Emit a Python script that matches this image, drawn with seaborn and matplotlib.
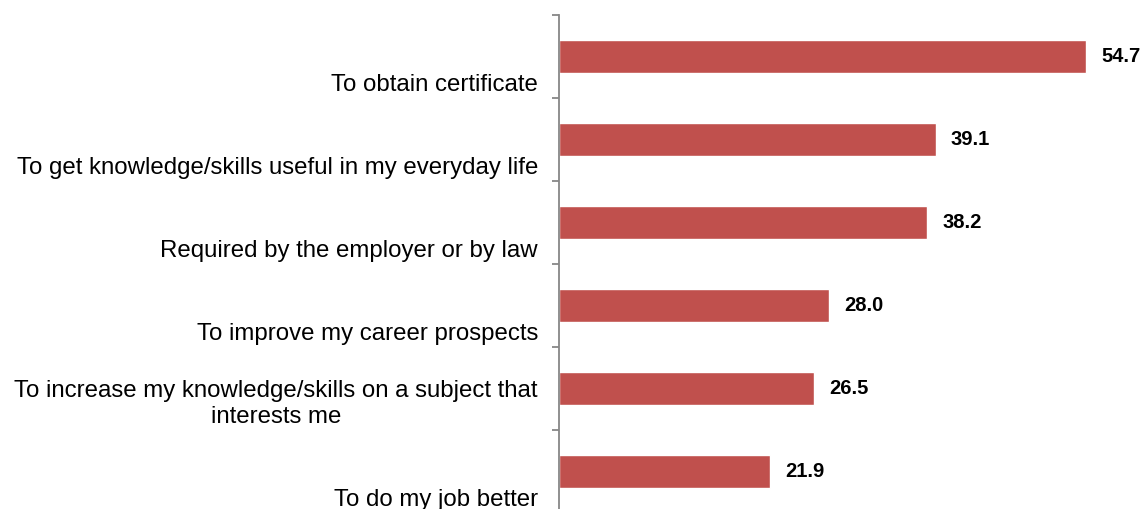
import matplotlib
matplotlib.use("Agg")
import matplotlib.pyplot as plt
import matplotlib.transforms as mtransforms
import seaborn as sns
import pandas as pd

# Reasons for participating in learning activities (%)
reasons = [
    "To obtain certificate",
    "To get knowledge/skills useful in my everyday life",
    "Required by the employer or by law",
    "To improve my career prospects",
    "To increase my knowledge/skills on a subject that\ninterests me",
    "To do my job better",
]
shares = [54.7, 39.1, 38.2, 28.0, 26.5, 21.9]

BAR_COLOR = "#C0504D"
AXIS_COLOR = "#878787"

sns.set_theme(style="white")
plt.rcParams["font.family"] = ["Liberation Sans", "DejaVu Sans"]

W, H, DPI = 1146, 509, 100
fig = plt.figure(figsize=(W / DPI, H / DPI), dpi=DPI)

# axes placed in pixel terms: value axis from x=559, category bands from y=15 to y=513
left_px, right_px = 559, 559 + 578
top_px, bottom_px = 15, 513
ax = fig.add_axes([left_px / W, (H - bottom_px) / H,
                   (right_px - left_px) / W, (bottom_px - top_px) / H])

df = pd.DataFrame({"reason": reasons, "share": shares})
sns.barplot(data=df, y="reason", x="share", order=reasons, color=BAR_COLOR,
            saturation=1, width=0.4, orient="h", ax=ax)

ax.set_xlim(0, 60)
ax.set_ylim(len(reasons) - 0.5, -0.5)

# value labels at the end of each bar
for cont in ax.containers:
    ax.bar_label(cont, fmt="%.1f", padding=11, fontsize=14.5, fontweight="bold",
                 color="black")

# category axis: only the left spine with ticks at band boundaries
for side in ("top", "right", "bottom"):
    ax.spines[side].set_visible(False)
ax.spines["left"].set_color(AXIS_COLOR)
ax.spines["left"].set_linewidth(1.3)
ax.set_xticks([])
ax.set_yticks([i - 0.5 for i in range(len(reasons) + 1)])
ax.set_yticklabels([])
ax.tick_params(axis="y", which="major", direction="out", length=5,
               width=1.3, color=AXIS_COLOR, left=True)
ax.set_xlabel("")
ax.set_ylabel("")

# category labels sit at the lower part of each band, right-aligned to the axis
trans = mtransforms.blended_transform_factory(ax.transAxes, ax.transData)
for i, label in enumerate(reasons):
    ax.annotate(label, xy=(0, i + 0.5), xycoords=trans,
                xytext=(-21, 7), textcoords="offset pixels",
                ha="right", va="baseline", multialignment="center",
                fontsize=17.3, color="black", linespacing=1.25,
                annotation_clip=False)

fig.savefig("out.png", dpi=DPI)
